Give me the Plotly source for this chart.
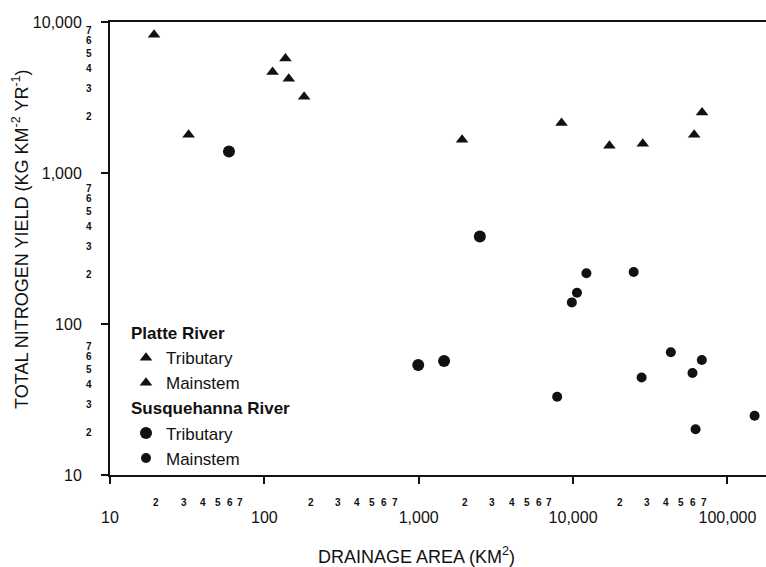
import numpy as np
import plotly.graph_objects as go

FONT = "Liberation Sans, Arial, Helvetica, sans-serif"
INK = "#111111"

# Platte River sites: drainage area (km2) and total nitrogen yield (kg km-2 yr-1)
platte_trib_area = [19.3, 32.3, 113, 137, 144, 181, 1910]
platte_trib_yield = [8240, 1790, 4660, 5740, 4210, 3200, 1660]
platte_main_area = [8420, 17200, 28300, 60900, 68500]
platte_main_yield = [2140, 1515, 1560, 1790, 2520]

# Susquehanna River sites
susq_trib_area = [59, 993, 1460, 2490]
susq_trib_yield = [1390, 53.6, 56.9, 380]
susq_main_area = [7890, 9820, 10600, 12200, 24700, 27800, 43000, 59400, 62200, 68300, 150000]
susq_main_yield = [33.0, 139, 161, 217, 221, 44.2, 65.0, 47.4, 20.1, 57.8, 24.7]

# Axis labelling
x_major = [10, 100, 1000, 10000, 100000]
x_major_text = ["10", "100", "1,000", "10,000", "100,000"]
y_major = [10, 100, 1000, 10000]
y_major_text = ["10", "100", "1,000", "10,000"]
minor_digits = [2, 3, 4, 5, 6, 7]
x_decades = [10, 100, 1000, 10000]
y_decades = [10, 100, 1000]

fig = go.Figure()

fig.add_trace(go.Scatter(
    x=platte_trib_area, y=platte_trib_yield, mode="markers", name="Tributary",
    legendgroup="platte", legendgrouptitle=dict(text="<b>Platte River</b>"),
    marker=dict(symbol="triangle-up", size=11, color=INK),
))
fig.add_trace(go.Scatter(
    x=platte_main_area, y=platte_main_yield, mode="markers", name="Mainstem",
    legendgroup="platte",
    marker=dict(symbol="triangle-up", size=11, color=INK),
))
fig.add_trace(go.Scatter(
    x=susq_trib_area, y=susq_trib_yield, mode="markers", name="Tributary",
    legendgroup="susq", legendgrouptitle=dict(text="<b>Susquehanna River</b>"),
    marker=dict(symbol="circle", size=12, color=INK),
))
fig.add_trace(go.Scatter(
    x=susq_main_area, y=susq_main_yield, mode="markers", name="Mainstem",
    legendgroup="susq",
    marker=dict(symbol="circle", size=10, color=INK),
))

annotations = []
# small digit labels between the decades on the x axis
for d in x_decades:
    for m in minor_digits:
        annotations.append(dict(
            x=np.log10(d * m), xref="x", y=0, yref="paper", yshift=-27,
            text=f"<b>{m}</b>", showarrow=False, xanchor="center", yanchor="middle",
            font=dict(size=10, color=INK, family=FONT),
        ))
# small digit labels between the decades on the y axis
for d in y_decades:
    for m in minor_digits:
        lv = np.log10(d * m)
        annotations.append(dict(
            x=0, xref="paper", xshift=-21, y=lv, yref="y", yshift=7 * lv - 11.6,
            text=f"<b>{m}</b>", showarrow=False, xanchor="center", yanchor="middle",
            font=dict(size=10, color=INK, family=FONT),
        ))
# axis titles
annotations.append(dict(
    x=0.467, xref="paper", y=0, yref="paper", yshift=-80,
    text="DRAINAGE AREA (KM<sup>2</sup>)", showarrow=False,
    xanchor="center", yanchor="middle", font=dict(size=18, color=INK, family=FONT),
))
annotations.append(dict(
    x=0, xref="paper", xshift=-89, y=0.519, yref="paper", textangle=-90,
    text="TOTAL NITROGEN YIELD (KG KM<sup>-2</sup> YR<sup>-1</sup>)", showarrow=False,
    xanchor="center", yanchor="middle", font=dict(size=18, color=INK, family=FONT),
))

axis_common = dict(
    type="log", showgrid=False, zeroline=False, showline=True,
    linecolor=INK, linewidth=2, ticks="outside", ticklen=7, tickwidth=1.5,
    tickcolor=INK, tickfont=dict(size=16, color=INK, family=FONT),
)

fig.update_layout(
    width=766, height=567,
    margin=dict(l=110, r=0, t=22, b=92),
    paper_bgcolor="white", plot_bgcolor="white",
    font=dict(family=FONT, color=INK),
    xaxis=dict(range=[1, 5.25], tickvals=x_major, ticktext=x_major_text,
               mirror=True, ticklabelstandoff=20, **axis_common),
    yaxis=dict(range=[1, 4], tickvals=y_major, ticktext=y_major_text,
               mirror=False, ticklabelstandoff=16, **axis_common),
    legend=dict(
        x=(126 - 110) / 656, y=(475 - 315) / 453, xanchor="left", yanchor="top",
        font=dict(size=17, color=INK, family=FONT), tracegroupgap=0,
        grouptitlefont=dict(size=17, color=INK, family=FONT),
        bgcolor="rgba(0,0,0,0)", traceorder="grouped",
    ),
    annotations=annotations,
)

fig.write_html("out.html")
